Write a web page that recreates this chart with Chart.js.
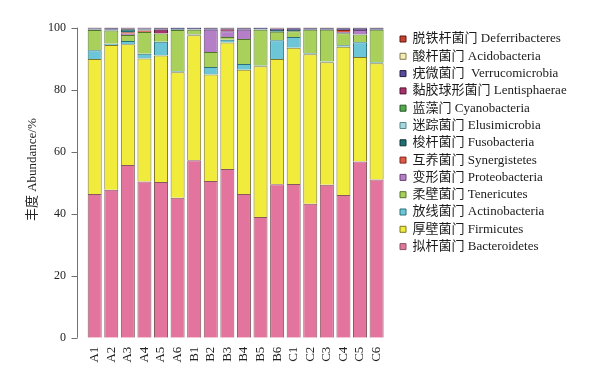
<!DOCTYPE html>
<html>
<head>
<meta charset="utf-8">
<script src="https://cdn.jsdelivr.net/npm/chart.js@4/dist/chart.umd.min.js"></script>
<style>
  html, body { margin: 0; padding: 0; background: #ffffff; }
  #c { display: block; }
</style>
</head>
<body>
<canvas id="c" width="605" height="374"></canvas>
<script>
// ---- data ----
const categories = ['A1','A2','A3','A4','A5','A6','B1','B2','B3','B4','B5','B6','C1','C2','C3','C4','C5','C6'];
const yTicks = [0, 20, 40, 60, 80, 100];

const bacteroidetes   = [46.3,47.7,55.7,50.4,50.2,45.1,57.2,50.5,54.4,46.3,38.9,49.5,49.6,43.2,49.3,46.0,56.8,51.0];
const firmicutes      = [43.6,46.7,38.9,39.6,40.8,40.5,40.3,34.4,40.8,40.1,48.6,40.4,43.9,48.2,39.5,47.8,33.7,37.5];
const actinobacteria  = [2.8,0.4,1.1,1.6,4.4,0.3,0.3,2.4,0.9,1.9,0.3,6.0,3.5,0.3,0.3,0.5,4.8,0.3];
const tenericutes     = [6.5,4.3,1.9,7.0,2.7,13.3,1.5,4.8,0.9,8.0,11.5,2.8,1.8,7.6,10.2,3.9,2.5,10.5];
const proteobacteria  = [0,0,0.4,0,0,0,0,7.2,1.8,3.0,0,0,0,0,0,0.4,1.4,0];
const synergistetes   = [0,0,0.5,0.5,0,0,0,0,0,0,0,0,0,0,0,0.6,0,0];
const fusobacteria    = [0.2,0.2,1.0,0.3,0,0.3,0.2,0,0,0,0.2,0.5,0.4,0,0,0,0,0];
const elusimicrobia   = [0,0,0,0,0,0,0,0,0,0,0,0,0,0,0,0,0,0];
const cyanobacteria   = [0,0,0,0,0,0,0,0,0,0,0,0,0,0,0,0,0,0];
const lentisphaerae   = [0,0,0.3,0,1.2,0,0,0,0.7,0,0,0,0,0,0,0,0,0];
const verrucomicrobia = [0.4,0.5,0.2,0.4,0.5,0.5,0.5,0.5,0.3,0.5,0.5,0.5,0.6,0.5,0.5,0.6,0.6,0.5];
const acidobacteria   = [0,0,0,0,0,0,0,0,0,0,0,0,0,0,0,0,0,0];
const deferribacteres = [0.2,0.2,0,0.2,0.2,0,0,0.2,0.2,0.2,0,0.3,0.2,0.2,0.2,0.2,0.2,0.2];

const seriesNames = [
  '拟杆菌门 Bacteroidetes', '厚壁菌门 Firmicutes', '放线菌门 Actinobacteria', '柔壁菌门 Tenericutes',
  '变形菌门 Proteobacteria', '互养菌门 Synergistetes', '梭杆菌门 Fusobacteria', '迷踪菌门 Elusimicrobia',
  '蓝藻门 Cyanobacteria', '黏胶球形菌门 Lentisphaerae', '疣微菌门  Verrucomicrobia', '酸杆菌门 Acidobacteria',
  '脱铁杆菌门 Deferribacteres'
];
const seriesValues = [bacteroidetes, firmicutes, actinobacteria, tenericutes, proteobacteria, synergistetes,
  fusobacteria, elusimicrobia, cyanobacteria, lentisphaerae, verrucomicrobia, acidobacteria, deferribacteres];
const fillColors = ['#E3749E','#F1EB3B','#6CC6D7','#A8D05A','#B47FC6','#DD5A47','#1F7074','#A6D7E0',
  '#52AA4C','#A83269','#5A4C9C','#F3EDB3','#C8412F'];
const edgeColors = ['#86585f','#7c7628','#2a727a','#51752a','#664476','#80291d','#0e3436','#58868d',
  '#285726','#521634','#221d45','#857b52','#5a1a12'];

const FONT = '"Liberation Serif", "Noto Sans CJK SC", serif';

const datasets = seriesNames.map((name, i) => ({
  label: name,
  data: seriesValues[i],
  backgroundColor: fillColors[i],
  borderColor: edgeColors[i],
  borderWidth: 1,
  barPercentage: 0.845,
  categoryPercentage: 1.0
}));

const axisPlugin = {
  id: 'axisLine',
  afterDraw(chart) {
    const y = chart.scales.y;
    const ctx = chart.ctx;
    const x = 77.5;
    ctx.save();
    ctx.strokeStyle = '#707070';
    ctx.lineWidth = 1;
    ctx.beginPath();
    ctx.moveTo(x, y.getPixelForValue(100));
    ctx.lineTo(x, y.getPixelForValue(0));
    yTicks.forEach(v => {
      const py = Math.round(y.getPixelForValue(v)) + 0.5;
      ctx.moveTo(x - 6, py);
      ctx.lineTo(x, py);
    });
    ctx.stroke();
    ctx.restore();
  }
};

const legendPlace = {
  id: 'legendPlace',
  beforeInit(chart) {
    const lg = chart.legend;
    if (!lg) return;
    const fit = lg.fit;
    lg.fit = function () { fit.call(this); this.width = 220.1; };
  },
  afterLayout(chart) {
    const lg = chart.legend;
    if (!lg) return;
    lg.left += 10.8;
    lg.right += 10.8;
  }
};

new Chart(document.getElementById('c'), {
  type: 'bar',
  data: { labels: categories, datasets },
  plugins: [axisPlugin, legendPlace],
  options: {
    responsive: false,
    animation: false,
    devicePixelRatio: 1,
    layout: { padding: { top: 22.3, right: 0, bottom: 0, left: 0 } },
    font: { family: FONT },
    plugins: {
      tooltip: { enabled: false },
      legend: {
        position: 'right',
        align: 'start',
        reverse: true,
        title: { display: true, text: ' ', font: { size: 1 }, padding: 2.35 },
        labels: {
          boxWidth: 6,
          boxHeight: 6,
          padding: 4.3,
          color: '#1a1a1a',
          font: { family: FONT, size: 13 }
        }
      }
    },
    scales: {
      x: {
        stacked: true,
        offset: true,
        grid: { display: false, drawTicks: false },
        border: { display: false },
        ticks: {
          autoSkip: false,
          minRotation: 90,
          maxRotation: 90,
          padding: 9,
          color: '#222',
          font: { family: FONT, size: 13 }
        },
        afterFit(s) { s.height = 36.3; }
      },
      y: {
        stacked: true,
        min: 0,
        max: 100,
        grid: { display: false, drawTicks: false },
        border: { display: false },
        ticks: {
          stepSize: 20,
          padding: 20.4,
          color: '#222',
          font: { family: FONT, size: 12 }
        },
        title: {
          display: true,
          text: '\u2003\u2003丰度 Abundance/%',
          color: '#222',
          font: { family: FONT, size: 13 },
          padding: { top: 25, bottom: 0 }
        },
        afterFit(s) { s.width = 86.4; }
      }
    }
  }
});
</script>
</body>
</html>
